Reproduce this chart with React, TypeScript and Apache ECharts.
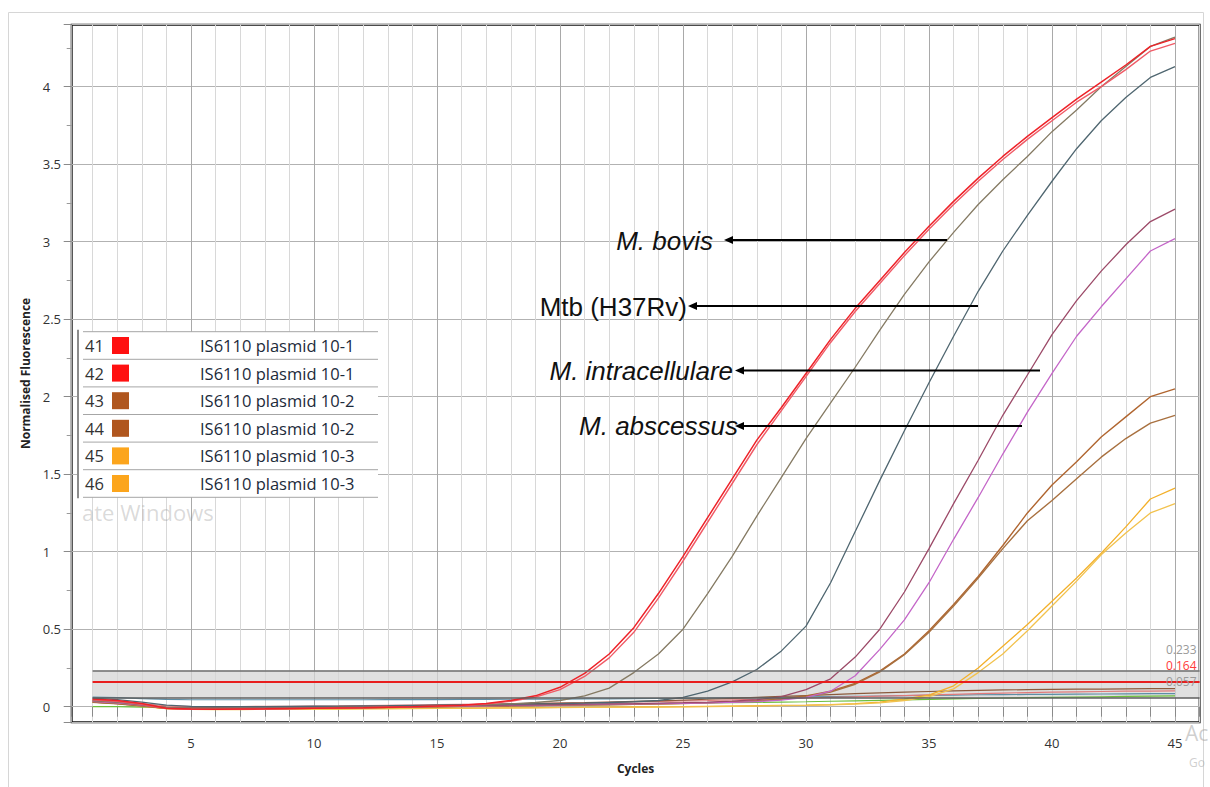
import React, { useEffect, useRef } from "react";
import * as echarts from "echarts";

// ---------- DATA ----------
const CYCLES = [1,2,3,4,5,6,7,8,9,10,11,12,13,14,15,16,17,18,19,20,21,22,23,24,25,26,27,28,29,30,31,32,33,34,35,36,37,38,39,40,41,42,43,44,45];

const RED_41 = [0.05,0.04,0.02,-0.01,-0.015,-0.016,-0.015,-0.014,-0.012,-0.01,-0.008,-0.006,-0.003,0.0,0.004,0.01,0.02,0.04,0.07,0.125,0.215,0.34,0.51,0.73,0.97,1.22,1.47,1.72,1.93,2.15,2.37,2.57,2.75,2.93,3.10,3.26,3.41,3.55,3.68,3.80,3.92,4.03,4.14,4.26,4.31];
const RED_42 = [0.045,0.035,0.015,-0.012,-0.017,-0.017,-0.016,-0.015,-0.013,-0.011,-0.009,-0.007,-0.004,-0.001,0.003,0.008,0.017,0.035,0.062,0.11,0.195,0.315,0.48,0.70,0.94,1.19,1.44,1.69,1.91,2.13,2.35,2.55,2.73,2.91,3.08,3.24,3.39,3.53,3.66,3.78,3.90,4.00,4.11,4.23,4.28];
const M_BOVIS = [0.04,0.03,0.015,-0.005,-0.01,-0.011,-0.01,-0.009,-0.008,-0.007,-0.005,-0.003,-0.001,0.001,0.004,0.007,0.012,0.018,0.027,0.04,0.07,0.12,0.22,0.34,0.50,0.73,0.97,1.23,1.48,1.73,1.96,2.19,2.43,2.66,2.87,3.06,3.24,3.40,3.55,3.71,3.85,4.00,4.13,4.26,4.32];
const MTB_H37RV = [0.055,0.045,0.03,0.01,0.002,0.0,0.0,0.001,0.002,0.003,0.004,0.005,0.006,0.008,0.01,0.012,0.014,0.016,0.018,0.02,0.023,0.027,0.032,0.04,0.06,0.10,0.16,0.24,0.36,0.52,0.80,1.13,1.46,1.78,2.09,2.39,2.68,2.94,3.17,3.39,3.60,3.78,3.93,4.06,4.13];
const M_INTRACELLULARE = [0.04,0.03,0.012,-0.006,-0.01,-0.01,-0.009,-0.008,-0.007,-0.006,-0.004,-0.002,0.0,0.002,0.004,0.006,0.008,0.01,0.012,0.014,0.016,0.018,0.02,0.023,0.026,0.03,0.036,0.045,0.065,0.11,0.18,0.32,0.50,0.74,1.02,1.31,1.59,1.88,2.14,2.40,2.62,2.81,2.98,3.13,3.21];
const M_ABSCESSUS = [0.035,0.025,0.01,-0.008,-0.012,-0.012,-0.011,-0.01,-0.009,-0.008,-0.006,-0.004,-0.002,0.0,0.002,0.004,0.006,0.008,0.01,0.012,0.014,0.016,0.018,0.02,0.022,0.025,0.028,0.033,0.042,0.06,0.10,0.20,0.37,0.56,0.80,1.08,1.35,1.63,1.90,2.15,2.39,2.58,2.76,2.94,3.02];
const BROWN_43 = [0.03,0.02,0.005,-0.01,-0.014,-0.014,-0.013,-0.012,-0.011,-0.01,-0.008,-0.006,-0.004,-0.002,0.0,0.002,0.004,0.006,0.008,0.01,0.012,0.014,0.016,0.019,0.022,0.026,0.031,0.038,0.05,0.07,0.10,0.15,0.23,0.34,0.49,0.66,0.84,1.04,1.25,1.43,1.58,1.74,1.87,2.00,2.05];
const BROWN_44 = [0.028,0.018,0.004,-0.011,-0.015,-0.015,-0.014,-0.013,-0.012,-0.011,-0.009,-0.007,-0.005,-0.003,-0.001,0.001,0.003,0.005,0.007,0.009,0.011,0.013,0.015,0.018,0.021,0.025,0.03,0.037,0.048,0.065,0.095,0.145,0.225,0.335,0.48,0.65,0.83,1.02,1.20,1.33,1.47,1.61,1.73,1.83,1.88];
const YELLOW_45 = [0.035,0.025,0.005,-0.012,-0.016,-0.017,-0.017,-0.016,-0.016,-0.015,-0.014,-0.013,-0.012,-0.011,-0.01,-0.009,-0.008,-0.007,-0.006,-0.005,-0.004,-0.003,-0.002,-0.001,0.0,0.002,0.004,0.006,0.008,0.01,0.014,0.02,0.03,0.05,0.075,0.135,0.25,0.39,0.53,0.68,0.83,0.99,1.16,1.34,1.41];
const YELLOW_46 = [0.032,0.022,0.003,-0.013,-0.017,-0.018,-0.018,-0.017,-0.017,-0.016,-0.015,-0.014,-0.013,-0.012,-0.011,-0.01,-0.009,-0.008,-0.007,-0.006,-0.005,-0.004,-0.003,-0.002,-0.001,0.001,0.003,0.005,0.007,0.009,0.012,0.017,0.025,0.04,0.065,0.115,0.22,0.34,0.49,0.65,0.81,0.98,1.12,1.25,1.31];
const NEG_GREEN = [0.0,0.0,-0.003,-0.006,-0.008,-0.008,-0.008,-0.007,-0.006,-0.005,-0.004,-0.003,-0.002,0.0,0.002,0.004,0.006,0.008,0.01,0.012,0.014,0.016,0.018,0.02,0.022,0.024,0.026,0.028,0.03,0.032,0.035,0.038,0.041,0.044,0.047,0.05,0.053,0.056,0.058,0.06,0.062,0.064,0.066,0.068,0.07];
const NEG_BLUE = [0.062,0.058,0.052,0.047,0.045,0.045,0.045,0.045,0.045,0.045,0.045,0.045,0.046,0.046,0.046,0.047,0.047,0.048,0.048,0.049,0.05,0.051,0.052,0.053,0.054,0.055,0.057,0.059,0.061,0.063,0.065,0.067,0.069,0.071,0.073,0.075,0.077,0.078,0.079,0.08,0.081,0.082,0.083,0.084,0.085];
const NEG_PINK = [0.045,0.035,0.02,0.005,0.0,0.0,0.001,0.002,0.003,0.004,0.005,0.007,0.009,0.011,0.013,0.015,0.017,0.019,0.021,0.023,0.025,0.028,0.031,0.034,0.037,0.04,0.044,0.048,0.052,0.056,0.06,0.064,0.068,0.072,0.076,0.08,0.084,0.088,0.091,0.094,0.096,0.098,0.10,0.101,0.102];
const NEG_BROWN = [0.03,0.022,0.01,-0.004,-0.008,-0.008,-0.007,-0.006,-0.005,-0.003,-0.001,0.001,0.003,0.005,0.008,0.011,0.014,0.017,0.02,0.023,0.026,0.03,0.034,0.038,0.043,0.048,0.054,0.06,0.066,0.072,0.078,0.084,0.089,0.094,0.098,0.102,0.105,0.108,0.11,0.112,0.113,0.114,0.115,0.116,0.116];

const THRESHOLDS = [0.233, 0.164, 0.057];
const THRESHOLD_LABELS = ["0.233", "0.164", "0.057"];
const BAND = [0.057, 0.233];

const Y_LABEL_MIN = 0;
const Y_LABEL_MAX = 4;
const X_LABEL_STEP = 5;

const LEGEND_IDS = ["41", "42", "43", "44", "45", "46"];
const LEGEND_LABELS = ["IS6110 plasmid 10-1", "IS6110 plasmid 10-1", "IS6110 plasmid 10-2", "IS6110 plasmid 10-2", "IS6110 plasmid 10-3", "IS6110 plasmid 10-3"];
const LEGEND_COLORS = ["#ff1010", "#ff1010", "#b0561e", "#b0561e", "#fca51c", "#fca51c"];

const ANNOTATIONS = ["M. bovis", "Mtb (H37Rv)", "M. intracellulare", "M. abscessus"];

// ---------- STYLE / LAYOUT ----------
const CURVES = [
  { name: "Neg green", data: NEG_GREEN, color: "#6cbf3c", w: 1.2 },
  { name: "Neg blue", data: NEG_BLUE, color: "#5d8ea6", w: 1.2 },
  { name: "Neg pink", data: NEG_PINK, color: "#e07a7a", w: 1.2 },
  { name: "Neg brown", data: NEG_BROWN, color: "#8b5a3c", w: 1.2 },
  { name: "45 IS6110 plasmid 10-3", data: YELLOW_45, color: "#f3b02a", w: 1.3 },
  { name: "46 IS6110 plasmid 10-3", data: YELLOW_46, color: "#f2c24e", w: 1.3 },
  { name: "43 IS6110 plasmid 10-2", data: BROWN_43, color: "#b0652f", w: 1.4 },
  { name: "44 IS6110 plasmid 10-2", data: BROWN_44, color: "#a8703f", w: 1.4 },
  { name: "M. abscessus", data: M_ABSCESSUS, color: "#c466c8", w: 1.3 },
  { name: "M. intracellulare", data: M_INTRACELLULARE, color: "#9c4a68", w: 1.3 },
  { name: "Mtb (H37Rv)", data: MTB_H37RV, color: "#4f6670", w: 1.3 },
  { name: "M. bovis", data: M_BOVIS, color: "#857a63", w: 1.3 },
  { name: "42 IS6110 plasmid 10-1", data: RED_42, color: "#f05a66", w: 1.4 },
  { name: "41 IS6110 plasmid 10-1", data: RED_41, color: "#ee2228", w: 1.5 },
];

const THRESHOLD_COLORS = ["#6e6e6e", "#e81e1e", "#5e5e5e"];
const THRESHOLD_TEXT_COLORS = ["#9a9a9a", "#ff3a3a", "#9a9a9a"];
const THRESHOLD_LABEL_GAP = [15, 10, 10];

const FONT = '"Open Sans", "Noto Sans", sans-serif';
const ARIAL = '"Liberation Sans", Arial, sans-serif';
const TOP_Z = 100;

export default function App() {
  const ref = useRef<HTMLDivElement>(null);

  useEffect(() => {
    if (!ref.current) return;
    const chart = echarts.init(ref.current, null, { renderer: "svg" });

    const lineSeries: any[] = CURVES.map((c, i) => ({
      name: c.name,
      type: "line",
      data: CYCLES.map((x, k) => [x, c.data[k]]),
      showSymbol: false,
      symbol: "none",
      lineStyle: { color: c.color, width: c.w },
      itemStyle: { color: c.color },
      z: 3,
      z2: i,
    }));

    const thresholdSeries = {
      name: "thresholds",
      type: "line",
      data: [],
      z: 2,
      markArea: {
        silent: true,
        itemStyle: { color: "rgba(214,214,214,0.75)" },
        data: [[{ coord: [CYCLES[0], BAND[0]] }, { coord: [46, BAND[1]] }]],
      },
      markLine: {
        silent: true,
        symbol: ["none", "none"],
        data: THRESHOLDS.map((t, i) => [
          {
            coord: [CYCLES[0], t],
            name: THRESHOLD_LABELS[i],
            lineStyle: { color: THRESHOLD_COLORS[i], width: i === 1 ? 2 : 1.5, type: "solid" },
            label: {
              show: true,
              position: "insideEndTop",
              formatter: THRESHOLD_LABELS[i],
              color: THRESHOLD_TEXT_COLORS[i],
              fontSize: 12,
              lineHeight: 12,
              fontFamily: FONT,
              distance: [3, THRESHOLD_LABEL_GAP[i]],
            },
          },
          { coord: [46, t] },
        ]),
      },
    };

    const els: any[] = [];
    const add = (el: any) => els.push({ ...el, z: TOP_Z, silent: true });

    // outer frame
    els.push({
      type: "rect",
      z: -10,
      silent: true,
      shape: { x: 8.5, y: 12.5, width: 1195, height: 800 },
      style: { fill: "none", stroke: "#d6d6d6", lineWidth: 1 },
    });

    // legend table
    const lgTop = 331.7;
    const rowH = 27.6;
    add({
      type: "rect",
      shape: { x: 78, y: lgTop, width: 300, height: rowH * LEGEND_IDS.length },
      style: { fill: "#ffffff" },
    });
    add({
      type: "line",
      shape: { x1: 78, y1: lgTop - 2, x2: 78, y2: lgTop + rowH * LEGEND_IDS.length + 1 },
      style: { stroke: "#8c8c8c", lineWidth: 2 },
    });
    for (let i = 0; i <= LEGEND_IDS.length; i++) {
      add({
        type: "line",
        shape: { x1: 83, y1: lgTop + i * rowH, x2: 378, y2: lgTop + i * rowH },
        style: { stroke: "#a6a6a6", lineWidth: 1 },
      });
    }
    LEGEND_IDS.forEach((id, i) => {
      const cy = lgTop + i * rowH + rowH / 2;
      add({
        type: "text",
        style: { text: id, x: 85, y: cy, fill: "#333", font: `16.5px ${FONT}`, verticalAlign: "middle", align: "left" },
      });
      add({
        type: "rect",
        shape: { x: 112, y: cy - 8.5, width: 17, height: 17 },
        style: { fill: LEGEND_COLORS[i] },
      });
      add({
        type: "text",
        style: { text: LEGEND_LABELS[i], x: 200, y: cy, fill: "#1c2a3a", font: `16.5px ${FONT}`, verticalAlign: "middle", align: "left" },
      });
    });

    // watermark remnants
    add({
      type: "text",
      style: { text: "ate Windows", x: 82, y: 512, fill: "rgba(140,140,140,0.32)", font: `22px ${FONT}`, verticalAlign: "middle" },
    });

    // annotations with arrows
    const ann = [
      { right: 713, y: 241, tip: 724, tail: 947, ay: 240, italic: true },
      { right: 687, y: 307, tip: 688, tail: 978, ay: 306, italic: false },
      { right: 733, y: 371, tip: 735, tail: 1040, ay: 370.5, italic: true },
      { right: 738, y: 426, tip: 735, tail: 1022, ay: 426, italic: true },
    ];
    ANNOTATIONS.forEach((t, i) => {
      const a = ann[i];
      add({
        type: "text",
        style: {
          text: t,
          x: a.right,
          y: a.y,
          fill: "#111",
          font: `${a.italic ? "italic " : ""}26px ${ARIAL}`,
          align: "right",
          verticalAlign: "middle",
        },
      });
      add({
        type: "line",
        shape: { x1: a.tip + 6, y1: a.ay, x2: a.tail, y2: a.ay },
        style: { stroke: "#000", lineWidth: 2 },
      });
      add({
        type: "polygon",
        shape: { points: [[a.tip, a.ay], [a.tip + 9, a.ay - 4], [a.tip + 9, a.ay + 4]] },
        style: { fill: "#000" },
      });
    });

    add({
      type: "text",
      style: { text: "Ac", x: 1185, y: 733, fill: "rgba(160,160,160,0.5)", font: `21px ${FONT}`, verticalAlign: "middle" },
    });
    add({
      type: "text",
      style: { text: "Go", x: 1189, y: 762, fill: "rgba(160,160,160,0.5)", font: `12px ${FONT}`, verticalAlign: "middle" },
    });

    const option: any = {
      animation: false,
      backgroundColor: "#ffffff",
      grid: {
        left: 71.7,
        top: 24.7,
        width: 1127.9,
        height: 697.5,
        show: true,
        borderColor: "#111",
        borderWidth: 2,
        backgroundColor: "#ffffff",
        containLabel: false,
      },
      xAxis: {
        type: "value",
        min: 0.15,
        max: 46,
        splitNumber: 46,
        minInterval: 1,
        maxInterval: 1,
        name: "Cycles",
        nameLocation: "middle",
        nameGap: 40,
        nameTextStyle: { fontSize: 12, fontWeight: "bold", color: "#222", fontFamily: FONT },
        axisLine: { show: false },
        axisTick: { show: true, inside: false, length: 10, lineStyle: { color: "#8a8a8a" } },
        axisLabel: {
          margin: 14,
          fontSize: 13,
          color: "#333",
          fontFamily: FONT,
          formatter: (v: number) =>
            Math.abs(v - Math.round(v)) < 1e-6 && Math.round(v) % X_LABEL_STEP === 0 && v >= X_LABEL_STEP && v <= CYCLES[CYCLES.length - 1]
              ? String(Math.round(v))
              : "",
        },
        splitLine: {
          show: true,
          lineStyle: { color: ["#a9a9a9", "#d8d8d8", "#d8d8d8", "#d8d8d8", "#d8d8d8"], width: 1 },
        },
      },
      yAxis: {
        type: "value",
        min: -0.1,
        max: 4.4,
        splitNumber: 9,
        minInterval: 0.5,
        maxInterval: 0.5,
        name: "Normalised Fluorescence",
        nameLocation: "middle",
        nameGap: 31,
        nameTextStyle: { fontSize: 12, fontWeight: "bold", color: "#222", fontFamily: FONT },
        axisLine: { show: false },
        axisTick: { show: true, inside: false, length: 8, lineStyle: { color: "#8a8a8a" } },
        minorTick: { show: true, splitNumber: 2, length: 5, lineStyle: { color: "#9a9a9a" } },
        axisLabel: {
          margin: 29,
          align: "left",
          fontSize: 13,
          color: "#333",
          fontFamily: FONT,
          formatter: (v: number) => (v < Y_LABEL_MIN - 1e-6 || v > Y_LABEL_MAX + 1e-6 ? "" : String(v)),
        },
        splitLine: { show: true, lineStyle: { color: "#b2b2b2", width: 1 } },
      },
      series: [thresholdSeries, ...lineSeries],
      graphic: { elements: els },
    };

    chart.setOption(option);
    return () => chart.dispose();
  }, []);

  return (
    <div
      ref={ref}
      style={{ position: "fixed", left: 0, top: 0, width: 1210, height: 787, background: "#fff" }}
    />
  );
}
